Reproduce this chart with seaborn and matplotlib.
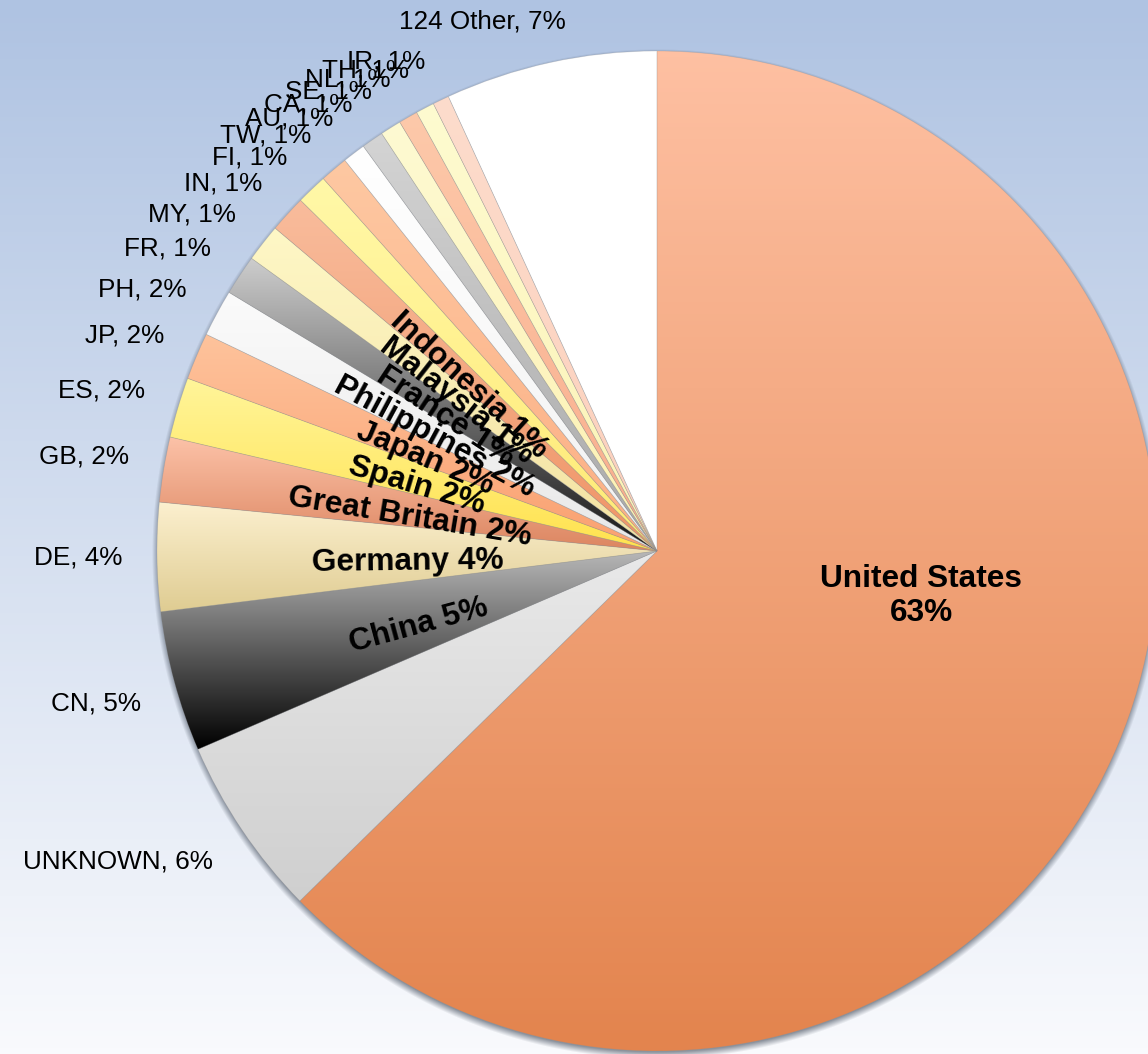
import numpy as np
import matplotlib
matplotlib.use("Agg")
import matplotlib.pyplot as plt
import seaborn as sns

# Visitor share by country (percent of all visits)
codes = ["US", "UNKNOWN", "CN", "DE", "GB", "ES", "JP", "PH", "FR", "MY",
         "IN", "FI", "TW", "AU", "CA", "SE", "NL", "TH", "IR", "124 Other"]
full_names = ["United States", None, "China", "Germany", "Great Britain", "Spain",
              "Japan", "Philippines", "France", "Malaysia", "Indonesia",
              None, None, None, None, None, None, None, None, None]
shares = [62.66, 5.85, 4.55, 3.50, 2.10, 1.95, 1.52, 1.52, 1.30, 1.22,
          1.20, 1.00, 0.90, 0.74, 0.71, 0.68, 0.62, 0.60, 0.53, 6.85]

# Vertical gradient (top colour, bottom colour) for each slice
grad_top = ["#FEC0A2", "#E9E9E9", "#B8B8B8", "#FCF0CF", "#FCC2A8", "#FFF59A",
            "#FEC39C", "#FBFBFB", "#CDCDCD", "#FEF7C6", "#F9BC9C", "#FFF8A8",
            "#FEC8A2", "#FFFFFF", "#D4D4D4", "#FEFAD2", "#FDC9AA", "#FEFBD0",
            "#FDDCCC", "#FFFFFF"]
grad_bot = ["#E3844E", "#CFCFCF", "#000000", "#DFCC92", "#DC8560", "#FFE24E",
            "#FAA070", "#E8E8E8", "#151515", "#F3E2A2", "#EF9466", "#FFEA74",
            "#FCAF84", "#F2F2F2", "#A8A8A8", "#FDF1B2", "#F9AD8C", "#FCF3B6",
            "#FCD0BC", "#FFFFFF"]

W, H = 1148, 1054
sns.set_theme(style="white")
plt.rcParams["font.family"] = ["Liberation Sans", "DejaVu Sans"]

fig = plt.figure(figsize=(W / 100, H / 100), dpi=100)
ax = fig.add_axes([0, 0, 1, 1])

# page background: blue at the top fading to near white
bg = sns.blend_palette(["#AFC3E2", "#F9FAFD"], n_colors=256, as_cmap=True)
ax.imshow(np.linspace(0, 1, 256)[:, None], cmap=bg, extent=(0, W, 0, H),
          origin="upper", aspect="auto", zorder=0, interpolation="bilinear")

cx, cy, R = 657.0, H - 551.0, 500.0

# soft drop shadow round the pie
yy, xx = np.mgrid[0:H, 0:W]
d = np.hypot(xx + 0.5 - cx, (H - yy - 0.5) - (cy - 3))
sh = np.zeros((H, W, 4))
sh[..., :3] = np.array([70, 80, 95]) / 255
sh[..., 3] = 0.6 * np.clip((R + 5 - d) / 7, 0, 1)
ax.imshow(sh, extent=(0, W, 0, H), origin="upper", aspect="auto", zorder=1)

wedges, _ = ax.pie(shares, startangle=90, counterclock=False, center=(cx, cy),
                   radius=R, colors=["none"] * len(shares),
                   wedgeprops=dict(linewidth=0.5, edgecolor=(0.55, 0.55, 0.55, 0.25)))

for w, top, bot in zip(wedges, grad_top, grad_bot):
    w.set_zorder(4)
    t = np.radians(np.linspace(w.theta1, w.theta2, 200))
    px = np.concatenate([[cx], cx + R * np.cos(t)])
    py = np.concatenate([[cy], cy + R * np.sin(t)])
    cmap = sns.blend_palette([top, bot], n_colors=256, as_cmap=True)
    im = ax.imshow(np.linspace(0, 1, 256)[:, None], cmap=cmap,
                   extent=(px.min(), px.max(), py.min(), py.max()),
                   origin="upper", aspect="auto", zorder=3, interpolation="bilinear")
    im.set_clip_path(w)

total = sum(shares)
outer_size = 18.8
inner_size = 22.8
nudge = {"124 Other": (23, 0)}

for w, code, name, val in zip(wedges, codes, full_names, shares):
    pct = f"{100 * val / total:.0f}%"
    mid = np.radians((w.theta1 + w.theta2) / 2)
    s, c = np.sin(mid), np.cos(mid)

    # outside labels
    if code != "US":
        ox, oy = cx + 535 * c, cy + 535 * s
        dx, dy = nudge.get(code, (0, 0))
        va = "baseline" if s > 0.05 else ("top" if s < -0.05 else "center")
        ax.text(ox + dx, oy + dy, f"{code}, {pct}", ha="right", va=va,
                fontsize=outer_size, color="black", zorder=6)

    # inside labels
    if name is None:
        continue
    if code == "US":
        a = np.radians(-9)
        ax.text(cx + 0.535 * R * np.cos(a), cy + 0.535 * R * np.sin(a) - 3,
                f"{name}\n{pct}", ha="center", va="center", fontsize=inner_size,
                fontweight="bold", linespacing=1.2, color="black", zorder=6)
    else:
        rot = np.degrees(mid) - 180
        rr = np.radians(rot)
        ix = cx + 0.51 * R * c + 8 * np.sin(rr) + 6
        iy = cy + 0.51 * R * s - 8 * np.cos(rr)
        ax.text(ix, iy, f"{name} {pct}", ha="center", va="center", rotation=rot,
                rotation_mode="anchor", fontsize=inner_size, fontweight="bold",
                color="black", zorder=6)

ax.set_xlim(0, W)
ax.set_ylim(0, H)
ax.axis("off")
fig.savefig("out.png", dpi=100)
